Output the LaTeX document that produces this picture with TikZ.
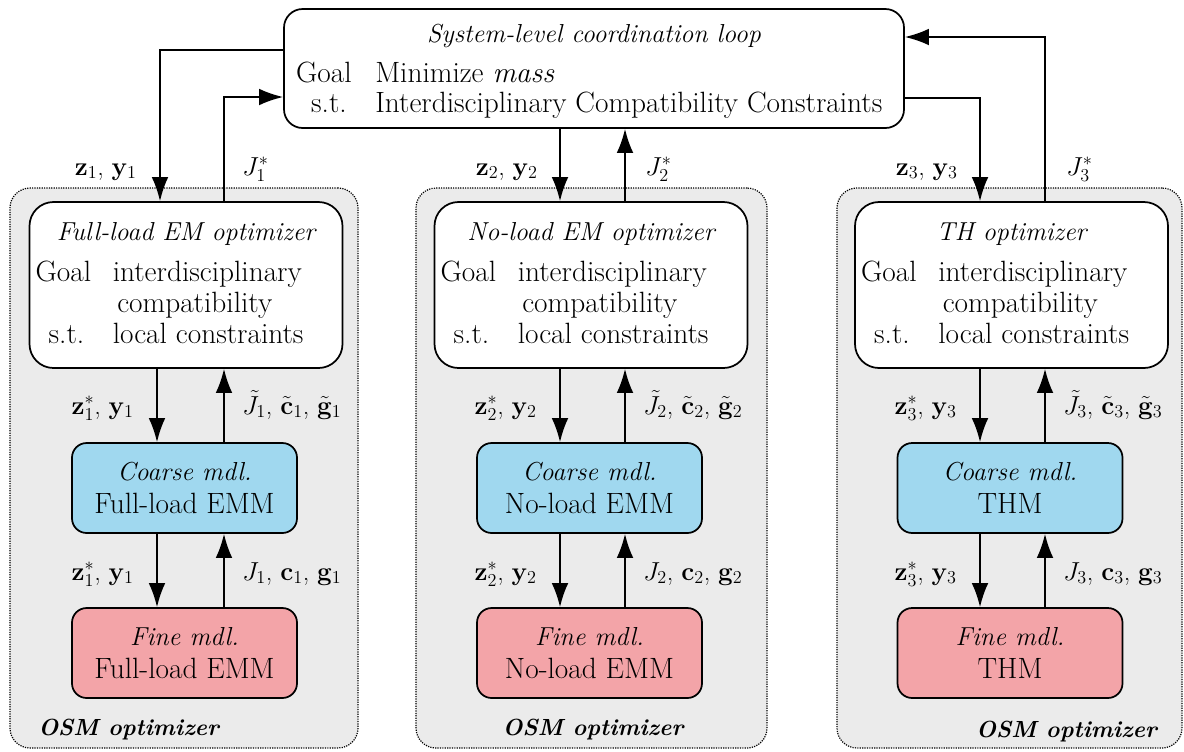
\RequirePackage{fix-cm}
\documentclass[tikz,border=0pt]{standalone}
\usepackage{amsmath}
\usetikzlibrary{arrows.meta}
\definecolor{regfill}{RGB}{235,235,235}
\definecolor{coarsefill}{RGB}{160,216,239}
\definecolor{finefill}{RGB}{243,164,168}
\newcommand{\rmtxt}{\fontsize{22}{25}\selectfont}
\newcommand{\ittxt}{\fontsize{19.5}{25}\selectfont\itshape}
\newcommand{\mtxt}{\fontsize{19.5}{23}\selectfont}
\tikzset{
  every node/.style={font=\rmtxt, inner sep=0pt},
  region/.style={draw, line width=0.9pt, dash pattern=on 0.9pt off 0.9pt, fill=regfill,
    rounded corners=15pt, minimum width=#1, minimum height=420pt, inner sep=0pt},
  sysbox/.style={draw, line width=1.3pt, fill=white, rounded corners=14pt,
    minimum width=465pt, minimum height=89.25pt, inner sep=0pt},
  optbox/.style={draw, line width=1.3pt, fill=white, rounded corners=18pt,
    minimum width=234.75pt, minimum height=124.5pt, inner sep=0pt},
  coarsebox/.style={draw, line width=1.3pt, fill=coarsefill, rounded corners=11pt,
    minimum width=168.75pt, minimum height=67.5pt, inner sep=0pt, align=center,
    font=\rmtxt},
  finebox/.style={coarsebox, fill=finefill},
  arr/.style={line width=1.3pt, -{Latex[length=18pt,width=12.5pt]}},
  osm/.style={font=\fontsize{17.5}{23}\selectfont\bfseries\itshape},
  ttl/.style={font=\ittxt},
  mlab/.style={font=\mtxt},
}
\begin{document}
\begin{tikzpicture}[x=0.75pt,y=-0.75pt]
\useasboundingbox (0,0) rectangle (1184,751);

% system-level box
\node[sysbox] (sys) at (594,68.5) {};
\node[ttl, anchor=base] (systit) at (594,42) {System-level coordination loop};
\node[anchor=base east] (sysg) at (352,82) {Goal};
\node[anchor=base west] (sysgt) at (375,82) {Minimize \textit{mass}};
\node[anchor=base east] (syss) at (347,112) {s.t.};
\node[anchor=base west] (sysst) at (375,112) {Interdisciplinary Compatibility Constraints};

\foreach \i/\rx/\rw/\cx/\ox/\dn/\up/\tit/\mdl in {
  1/184/261pt/184.5/186/157/224/{Full-load EM optimizer}/{Full-load EMM},
  2/591.5/263.25pt/589.5/591/560/625/{No-load EM optimizer}/{No-load EMM},
  3/1009.5/258.75pt/1010/1011.5/980/1045/{TH optimizer}/{THM}} {
  \node[region=\rw] (reg\i) at (\rx,468) {};
  \node[optbox] (opt\i) at (\ox,285) {};
  \node[ttl, anchor=base] (optt\i) at (\ox,240) {\tit};
  \node[anchor=base east] (og\i) at ({\ox-94.5},281) {Goal};
  \node[anchor=base west] (ogt\i) at ({\ox-73.5},281) {interdisciplinary};
  \node[anchor=base west] (ogc\i) at ({\ox-69},312) {compatibility};
  \node[anchor=base east] (os\i) at ({\ox-101.5},343) {s.t.};
  \node[anchor=base west] (ost\i) at ({\ox-73.5},343) {local constraints};
  \node[coarsebox] (co\i) at (\cx,488) {{\ittxt Coarse mdl.}\\ \mdl};
  \node[finebox] (fi\i) at (\cx,653) {{\ittxt Fine mdl.}\\ \mdl};
  \draw[arr] (opt\i.south -| \dn,0) -- (co\i.north -| \dn,0);
  \draw[arr] (co\i.north -| \up,0) -- (opt\i.south -| \up,0);
  \draw[arr] (co\i.south -| \dn,0) -- (fi\i.north -| \dn,0);
  \draw[arr] (fi\i.north -| \up,0) -- (co\i.south -| \up,0);
  \node[mlab, anchor=base east] (la\i) at ({\dn-23},414) {$\mathbf{z}_\i^*$, $\mathbf{y}_\i$};
  \node[mlab, anchor=base west] (lb\i) at ({\up+18},414) {$\tilde{J}_\i$, $\tilde{\mathbf{c}}_\i$, $\tilde{\mathbf{g}}_\i$};
  \node[mlab, anchor=base east] (lc\i) at ({\dn-23},580) {$\mathbf{z}_\i^*$, $\mathbf{y}_\i$};
  \node[mlab, anchor=base west] (ld\i) at ({\up+18},580) {$J_\i$, $\mathbf{c}_\i$, $\mathbf{g}_\i$};
}

\node[osm, anchor=base west] (osm1) at (38,735) {OSM optimizer};
\node[osm, anchor=base] (osm2) at (593,735) {OSM optimizer};
\node[osm, anchor=base east] (osm3) at (1157,737) {OSM optimizer};

% system-level connectors
\draw[arr] (sys.west |- 0,50) -| (opt1.north -| 160,0);
\draw[arr] (opt1.north -| 224,0) |- (sys.west |- 0,97);
\draw[arr] (sys.south -| 560,0) -- (opt2.north -| 560,0);
\draw[arr] (opt2.north -| 625,0) -- (sys.south -| 625,0);
\draw[arr] (sys.east |- 0,98) -| (opt3.north -| 980,0);
\draw[arr] (opt3.north -| 1045,0) |- (sys.east |- 0,37);

\node[mlab, anchor=base east] (lt1) at (137,175) {$\mathbf{z}_1$, $\mathbf{y}_1$};
\node[mlab, anchor=base west] (lu1) at (242,175) {$J_1^*$};
\node[mlab, anchor=base east] (lt2) at (538,175) {$\mathbf{z}_2$, $\mathbf{y}_2$};
\node[mlab, anchor=base west] (lu2) at (645,175) {$J_2^*$};
\node[mlab, anchor=base east] (lt3) at (958,175) {$\mathbf{z}_3$, $\mathbf{y}_3$};
\node[mlab, anchor=base west] (lu3) at (1066,175) {$J_3^*$};
\end{tikzpicture}
\end{document}
